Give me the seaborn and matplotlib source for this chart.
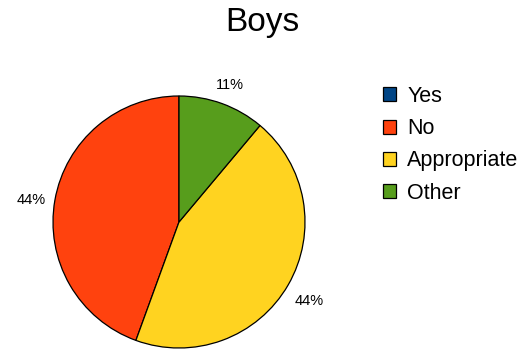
import matplotlib
matplotlib.use("Agg")
import matplotlib.pyplot as plt
from matplotlib.transforms import ScaledTranslation
import seaborn as sns

categories = ["Yes", "No", "Appropriate", "Other"]
counts = [0, 4, 4, 1]
palette_hex = ["#004586", "#ff420e", "#ffd320", "#579d1c"]
title_text = "Boys"

sns.set_style("white")
plt.rcParams["font.family"] = ["Liberation Sans", "DejaVu Sans"]
plt.rcParams["text.color"] = "black"
colors = sns.color_palette(palette_hex)

W, H = 532, 351
fig = plt.figure(figsize=(W / 100, H / 100), dpi=100)
fig.patch.set_facecolor("white")

# pie centred at (179, 222) px with radius 126 px
cx, cy, r = 179, 222, 126
ax = fig.add_axes([(cx - r) / W, (H - cy - r) / H, 2 * r / W, 2 * r / H])


def pct_label(p):
    return f"{p:.0f}%" if p > 0.5 else ""


wedges, texts, autotexts = ax.pie(
    counts,
    colors=colors,
    startangle=90,
    counterclock=True,
    autopct=pct_label,
    pctdistance=1.19,
    radius=1,
    wedgeprops=dict(edgecolor="black", linewidth=0.9),
    textprops=dict(fontsize=10.5, color="black"),
)
nudge = ScaledTranslation(0, -4 / 100, fig.dpi_scale_trans)
for t in autotexts:
    t.set_transform(ax.transData + nudge)

ax.set_xlim(-1, 1)
ax.set_ylim(-1, 1)
ax.set_aspect("equal")
ax.axis("off")

fig.text(262 / W, 1 - 23 / H, title_text, ha="center", va="center",
         fontsize=24, color="black")

fig.legend(
    wedges,
    categories,
    loc="upper left",
    bbox_to_anchor=(383 / W, 1 - 86 / H),
    frameon=False,
    fontsize=15.5,
    labelcolor="black",
    handlelength=0.62,
    handleheight=0.62,
    handletextpad=0.5,
    labelspacing=0.52,
    borderpad=0,
    borderaxespad=0,
)

fig.savefig("out.png", dpi=100, facecolor="white")
